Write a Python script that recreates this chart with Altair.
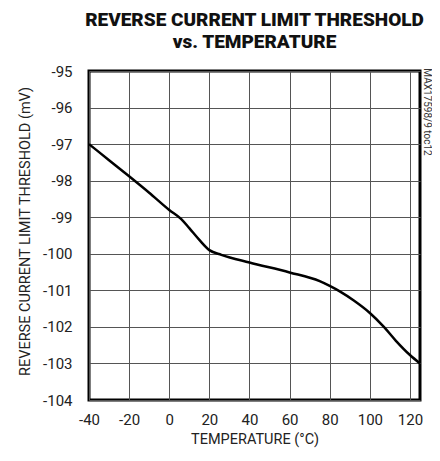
import altair as alt
import pandas as pd

# Data
temperature = [-40, -30, -20, -10, 0, 6, 10, 15, 20, 26, 40, 60, 75, 80, 85, 92, 100, 107, 113, 120, 125]
threshold = [-97.0, -97.44, -97.88, -98.33, -98.8, -99.05, -99.3, -99.62, -99.9, -100.03,
             -100.24, -100.51, -100.75, -100.88, -101.03, -101.28, -101.62, -102.0, -102.38, -102.77, -103.0]

x_ticks = [-40, -20, 0, 20, 40, 60, 80, 100, 120]
y_ticks = [-104, -103, -102, -101, -100, -99, -98, -97, -96, -95]
note = ["MAX17598/9 toc12"]

FONT = "Roboto, Liberation Sans, sans-serif"

df = pd.DataFrame({"T": temperature, "V": threshold})

line = alt.Chart(df).mark_line(color="black", strokeWidth=2.5, interpolate="monotone").encode(
    x=alt.X("T:Q", scale=alt.Scale(domain=[-40, 125], nice=False, zero=False),
            axis=alt.Axis(values=x_ticks, title="TEMPERATURE (°C)", tickSize=0, domain=False,
                          labelPadding=12, titlePadding=5, labelFlush=False,
                          labelExpr="datum.value + ''")),
    y=alt.Y("V:Q", scale=alt.Scale(domain=[-104, -95], nice=False, zero=False),
            axis=alt.Axis(values=y_ticks, title="REVERSE CURRENT LIMIT THRESHOLD (mV)", tickSize=0,
                          domain=False, labelPadding=17, titlePadding=10, labelFlush=False,
                          titleY=160, labelExpr="datum.value + ''")),
)

txt = alt.Chart(pd.DataFrame({"t": note})).mark_text(
    angle=90, fontSize=10, font=FONT, color="#333", align="center", baseline="middle"
).encode(text="t:N", x=alt.value(338), y=alt.value(41))

chart = alt.layer(line, txt).properties(
    width=331, height=329,
    autosize=alt.AutoSizeParams(type="none"),
    padding={"left": 81, "top": 63, "right": 12, "bottom": 49},
    title=alt.TitleParams(["REVERSE CURRENT LIMIT THRESHOLD", "vs. TEMPERATURE"],
                          font=FONT, fontSize=19, fontWeight=900, color="#111",
                          anchor="middle", lineHeight=22, offset=12),
).configure_view(stroke="black", strokeWidth=3).configure_axis(
    gridColor="#555", gridWidth=1, gridOpacity=1,
    labelFont=FONT, labelFontSize=15, labelColor="#222",
    titleFont=FONT, titleFontSize=14.5, titleFontWeight="normal", titleColor="#222",
)

chart.save("out.html", embed_options={"renderer": "svg", "actions": False})
